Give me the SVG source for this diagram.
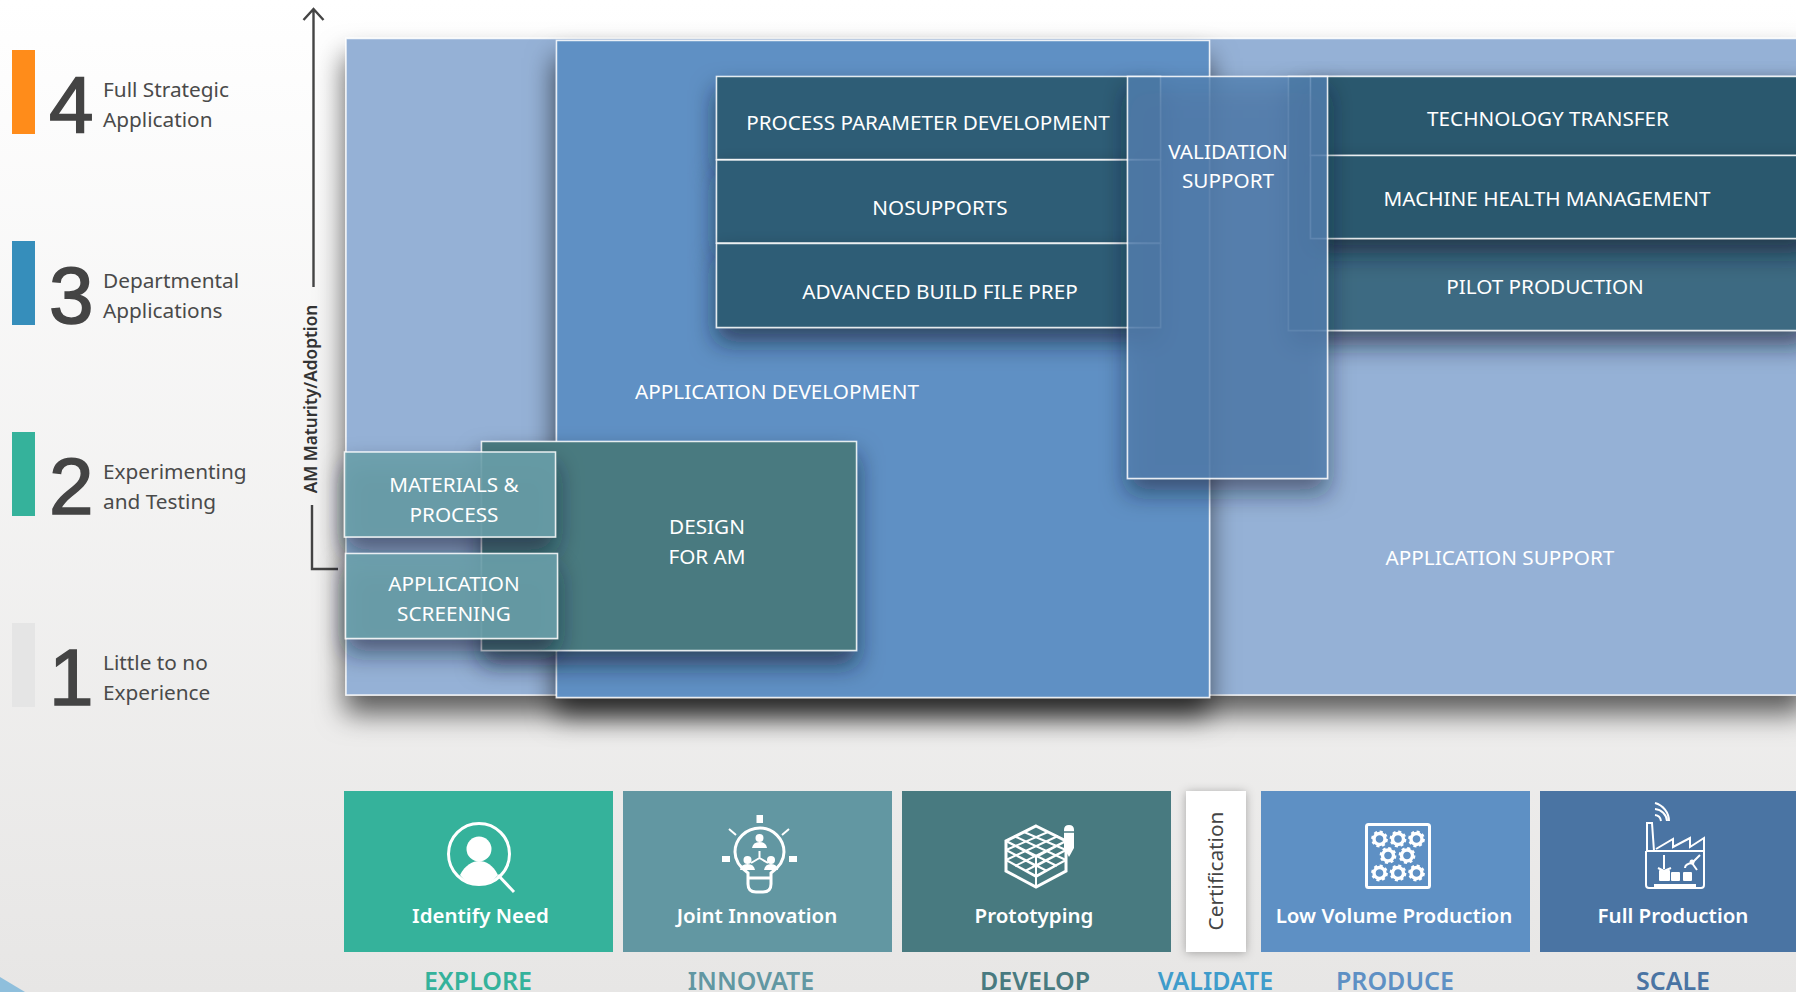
<svg xmlns="http://www.w3.org/2000/svg" width="1796" height="992" viewBox="0 0 1796 992">
<defs>
<linearGradient id="bg" x1="0" y1="0" x2="0" y2="1"><stop offset="0" stop-color="#ffffff"/><stop offset="0.04" stop-color="#fefefe"/><stop offset="1" stop-color="#e7e6e5"/></linearGradient>
<filter id="sh" x="-20%" y="-20%" width="140%" height="150%"><feDropShadow dx="-1" dy="18" stdDeviation="14" flood-color="#000" flood-opacity="0.62"/></filter>
<filter id="shs" x="-30%" y="-40%" width="160%" height="200%"><feDropShadow dx="0" dy="14" stdDeviation="12" flood-color="#0a1a30" flood-opacity="0.65"/></filter>
<filter id="shc" x="-30%" y="-10%" width="160%" height="120%"><feDropShadow dx="0" dy="1" stdDeviation="5" flood-color="#000" flood-opacity="0.3"/></filter>
<g id="gear"><circle r="5.5" fill="none" stroke="#fff" stroke-width="3.4"/><circle r="7.2" fill="none" stroke="#fff" stroke-width="2.4" stroke-dasharray="3 2.65"/></g>
</defs>
<style>
text{font-family:"Noto Sans","Open Sans","Liberation Sans",sans-serif}
.digit{font-family:"Liberation Sans",Arial,sans-serif;font-size:80px;fill:#444;stroke:#444;stroke-width:1.6}
.lvl{font-size:20.8px;fill:#4a4a4a}
.w{font-size:20.7px;fill:#fff;text-anchor:middle}
.tile{font-size:20.5px;font-weight:600;fill:#fff;text-anchor:middle}
.ph{font-size:25px;font-weight:600;text-anchor:middle}
.bd{stroke:#fff;stroke-width:1.5;stroke-opacity:.85}
.ic{fill:none;stroke:#fff;stroke-width:3}
.ic2{fill:none;stroke:#fff;stroke-width:2}
.wf{fill:#fff}
</style>
<rect width="1796" height="992" fill="url(#bg)"/>
<polygon points="0,977 25,992 0,992" fill="#8fbfdc"/>

<g id="level-4"><rect x="12" y="50" width="23" height="84" fill="#ff8c1a"/><text class="digit" x="49" y="132">4</text><text class="lvl" x="103" y="97">Full Strategic</text><text class="lvl" x="103" y="127">Application</text></g>
<g id="level-3"><rect x="12" y="241" width="23" height="84" fill="#368ebb"/><text class="digit" x="49" y="323">3</text><text class="lvl" x="103" y="288">Departmental</text><text class="lvl" x="103" y="318">Applications</text></g>
<g id="level-2"><rect x="12" y="432" width="23" height="84" fill="#35b29b"/><text class="digit" x="49" y="514">2</text><text class="lvl" x="103" y="479">Experimenting</text><text class="lvl" x="103" y="509">and Testing</text></g>
<g id="level-1"><rect x="12" y="623" width="23" height="84" fill="#e5e5e5"/><text class="digit" x="49" y="705">1</text><text class="lvl" x="103" y="670">Little to no</text><text class="lvl" x="103" y="700">Experience</text></g>

<g id="connectors" fill="none" stroke="#444" stroke-width="2.4">
<path d="M313.500 287V10M303.500 20L313.500 9L323.500 20"/>
<path d="M312 505V569H338"/>
</g>
<text x="0" y="0" transform="translate(317,399) rotate(-90)" style="font-size:17.2px;font-weight:600;fill:#333;text-anchor:middle">AM Maturity/Adoption</text>

<g id="application-support"><rect x="346" y="38.500" width="1460" height="656.500" fill="#95b1d6" filter="url(#sh)" class="bd"/><text class="w" x="1500" y="565">APPLICATION SUPPORT</text></g>
<g id="application-development"><rect x="556.500" y="40.500" width="653" height="657" fill="#5e90c4" filter="url(#sh)" class="bd"/><text class="w" x="777" y="399">APPLICATION DEVELOPMENT</text></g>

<g id="process-parameter"><rect x="716.500" y="76.500" width="444" height="83" fill="#2f5d76" filter="url(#shs)" class="bd"/><text class="w" x="928" y="130">PROCESS PARAMETER DEVELOPMENT</text></g>
<g id="nosupports"><rect x="716.500" y="160" width="444" height="83" fill="#2f5d76" filter="url(#shs)" class="bd"/><text class="w" x="940" y="215">NOSUPPORTS</text></g>
<g id="build-file"><rect x="716.500" y="243.500" width="444" height="84" fill="#2f5d76" filter="url(#shs)" class="bd"/><text class="w" x="940" y="299">ADVANCED BUILD FILE PREP</text></g>

<g id="pilot"><rect x="1288.500" y="76.500" width="520" height="254" fill="#3e6a82" filter="url(#shs)" class="bd"/><text class="w" x="1545" y="294">PILOT PRODUCTION</text></g>
<g id="technology-transfer"><rect x="1310.500" y="76.500" width="500" height="79" fill="#2a586e" filter="url(#shs)" class="bd"/><text class="w" x="1548" y="126">TECHNOLOGY TRANSFER</text></g>
<g id="machine-health"><rect x="1310.500" y="155.500" width="500" height="83" fill="#2a586e" filter="url(#shs)" class="bd"/><text class="w" x="1547" y="206">MACHINE HEALTH MANAGEMENT</text></g>

<g id="validation-support"><rect x="1127.500" y="76.500" width="200" height="402" fill="#5380b0" fill-opacity=".8" filter="url(#shs)" class="bd"/><text class="w" x="1228" y="159">VALIDATION</text><text class="w" x="1228" y="188">SUPPORT</text></g>

<g id="design-for-am"><rect x="481.500" y="441.500" width="375" height="209" fill="#487a80" filter="url(#shs)" class="bd"/><text class="w" x="707" y="534">DESIGN</text><text class="w" x="707" y="564">FOR AM</text></g>
<g id="materials-process"><rect x="344.500" y="452" width="211" height="85" fill="#6a9faa" fill-opacity=".88" filter="url(#shs)" class="bd"/><text class="w" x="454" y="492">MATERIALS &amp;</text><text class="w" x="454" y="522">PROCESS</text></g>
<g id="application-screening"><rect x="345.500" y="553.500" width="212" height="85" fill="#6a9faa" fill-opacity=".88" filter="url(#shs)" class="bd"/><text class="w" x="454" y="591">APPLICATION</text><text class="w" x="454" y="621">SCREENING</text></g>

<g id="identify-need"><rect x="344" y="791" width="269" height="161" fill="#35b29b"/>
<circle class="ic" cx="479" cy="854" r="30.500" stroke-width="3.500"/><circle class="wf" cx="479" cy="849" r="12.500"/><path class="wf" d="M460 875C465 865 473 861 479 861C486 861 493 865 498 875C494 881 486 884 479 884C471 884 464 881 460 875Z"/><path class="ic" stroke-width="4" d="M498 875L514 892"/>
<text class="tile" x="480.500" y="923">Identify Need</text></g>
<g id="joint-innovation"><rect x="623" y="791" width="269" height="161" fill="#6297a2"/>
<path class="ic" d="M748 873C738 866 735 859 735 852C735 839 746 828 760 828C773 828 784 839 784 852C784 859 781 866 771 873V884Q771 892 763 892H756Q748 892 748 884ZM748 878H771"/>
<rect class="wf" x="756.500" y="815" width="6.500" height="8"/><rect class="wf" x="722" y="856" width="8" height="6"/><rect class="wf" x="789" y="856" width="8" height="6"/>
<path class="ic2" d="M729 829L736 835M789 829L782 835M759.500 851V858M759.500 858L751 863M759.500 858L768 863"/>
<circle class="wf" cx="759.500" cy="838" r="4"/><path class="wf" d="M752 848Q753 842 759.500 842Q766 842 767 848Z"/>
<circle class="wf" cx="747.500" cy="860" r="4"/><path class="wf" d="M740 870Q741 864 747.500 864Q754 864 755 870Z"/>
<circle class="wf" cx="771" cy="860" r="4"/><path class="wf" d="M764 870Q765 864 771 864Q777 864 778 870Z"/>
<text class="tile" x="757" y="923">Joint Innovation</text></g>
<g id="prototyping"><rect x="902" y="791" width="269" height="161" fill="#487a80"/>
<path class="ic" d="M1036 826L1066 841V871L1036 887L1006 871V841Z"/>
<path class="ic2" stroke-width="2.500" d="M1006 841L1036 857L1066 841M1006 850L1036 866L1066 850M1006 860L1036 876L1066 860M1006 850L1048 832M1006 860L1058 836M1015 866L1066 841M1025 871L1066 850M1036 877L1066 860M1066 850L1024 832M1066 860L1014 836M1057 866L1006 841M1047 871L1006 850M1036 877L1006 860M1036 857V887"/>
<path class="wf" d="M1064 830Q1064 825 1069 825Q1074 825 1074 830V848L1069 857L1064 848Z"/><path d="M1064 832H1074" stroke="#487a80" stroke-width="1.500"/>
<text class="tile" x="1034" y="923">Prototyping</text></g>
<g id="certification"><rect x="1186" y="791" width="60" height="161" fill="#fff" filter="url(#shc)"/><text x="0" y="0" transform="translate(1223,871) rotate(-90)" style="font-size:20.8px;fill:#444;text-anchor:middle">Certification</text></g>
<g id="low-volume"><rect x="1261" y="791" width="269" height="161" fill="#5e90c4"/>
<rect class="ic" x="1366.500" y="824.500" width="63" height="63" rx="2"/>
<use href="#gear" x="1379.500" y="839"/><use href="#gear" x="1398" y="839"/><use href="#gear" x="1416.500" y="839"/><use href="#gear" x="1388" y="855.500"/><use href="#gear" x="1407" y="855.500"/><use href="#gear" x="1379.500" y="873"/><use href="#gear" x="1398" y="873"/><use href="#gear" x="1416.500" y="873"/>
<text class="tile" x="1394" y="923">Low Volume Production</text></g>
<g id="full-production"><rect x="1540" y="791" width="256" height="161" fill="#4a74a3"/>
<path class="ic2" stroke-width="2.500" d="M1647 851L1647 823H1652L1654 851M1656 849L1673 839V847L1690 838V847L1704 838V851M1646 851H1704M1646 851V885Q1646 888 1649 888H1701Q1704 888 1704 885V851"/>
<path class="ic2" d="M1655 815A7 7 0 0 1 1661 821M1655 809A13 13 0 0 1 1667 821M1655 803A19 19 0 0 1 1669 821"/>
<rect class="wf" x="1654" y="884" width="42" height="4"/><rect class="wf" x="1659" y="870" width="11" height="11" rx="1"/><rect class="wf" x="1671" y="872" width="9" height="9" rx="1"/><rect class="wf" x="1683" y="872" width="9" height="9" rx="1"/>
<path class="ic2" d="M1664 855V869M1658 868L1664 871L1671 868M1685 868Q1685 864 1692 863L1700 855M1692 863L1697 870"/><circle class="wf" cx="1692" cy="862" r="2.500"/>
<text class="tile" x="1673" y="923">Full Production</text></g>

<g id="phases">
<text class="ph" x="478" y="990" fill="#35b29b">EXPLORE</text>
<text class="ph" x="751" y="990" fill="#6297a2">INNOVATE</text>
<text class="ph" x="1035" y="990" fill="#487a80">DEVELOP</text>
<text class="ph" x="1215.500" y="990" fill="#3f9ccb">VALIDATE</text>
<text class="ph" x="1395" y="990" fill="#5e90c4">PRODUCE</text>
<text class="ph" x="1673" y="990" fill="#4a74a3">SCALE</text>
</g>
</svg>
